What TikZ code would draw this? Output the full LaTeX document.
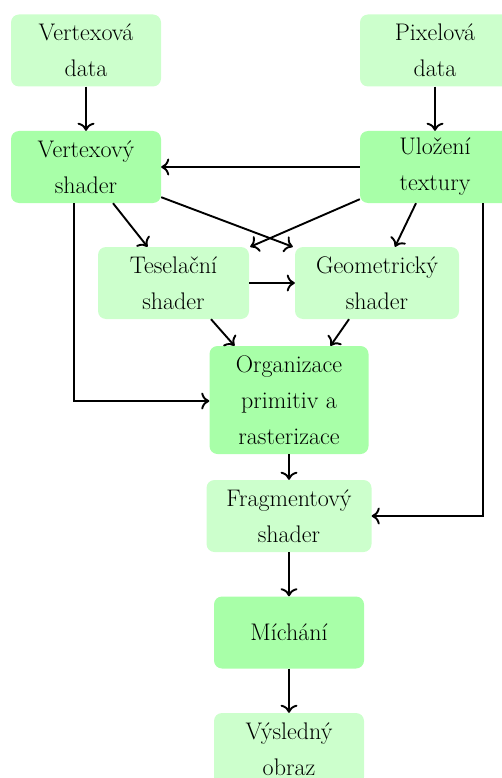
\documentclass[tikz,border=0pt]{standalone}
\usepackage{xcolor}
\usepackage{tikz}
\usetikzlibrary{calc, positioning, arrows.meta}

\definecolor{svetla}{HTML}{CCFFCC}
\definecolor{tmava}{HTML}{A8FFA8}

\tikzset{
    blok/.style={fill=svetla, rounded corners=8pt, align=center, inner sep=2pt,
        minimum width=150pt, minimum height=72pt,
        font=\fontsize{24}{36}\selectfont},
    blokt/.style={blok, fill=tmava},
    sipka/.style={-{To[scale=1.4]}, line width=1.9pt}
}

\begin{document}
\begin{tikzpicture}[x=1pt, y=-1pt]

    % =================================================================
    % 1. OKRAJE OBRAZKU
    % =================================================================
    \useasboundingbox (0,0) rectangle (501,778);

    % =================================================================
    % 2. BLOKY
    % =================================================================
    \node[blok]  (vdata)   at (86, 50.5)  {Vertexová\\data};
    \node[blok]  (pdata)   at (435, 50.5) {Pixelová\\data};
    \node[blokt] (vshader) at (86, 167)   {Vertexový\\shader};
    \node[blokt] (textury) at (435, 167)  {Uložení\\textury};
    \node[blok, minimum width=151pt]  (tesel) at (173.5, 283) {Teselační\\shader};
    \node[blok, minimum width=164pt]  (geom)  at (377, 283)   {Geometrický\\shader};
    \node[blokt, minimum width=159pt, minimum height=108pt]
        (raster) at (289, 400) {Organizace\\primitiv a\\rasterizace};
    \node[blok, minimum width=165pt]  (frag)  at (289, 516) {Fragmentový\\shader};
    \node[blokt] (mix)  at (289, 632.5) {Míchání};
    \node[blok]  (vysl) at (289, 749)   {Výsledný\\obraz};

    % =================================================================
    % 3. SIPKY
    % =================================================================
    \draw[sipka] (vdata) -- (vshader);
    \draw[sipka] (pdata) -- (textury);
    \draw[sipka] (textury) -- (vshader);
    \draw[sipka] ([xshift=27pt]vshader.south) -- ([xshift=-26pt]tesel.north);
    \draw[sipka] ([yshift=6pt]vshader.south east) -- ([xshift=-2pt]geom.north west);
    \draw[sipka] ([yshift=4pt]textury.south west) -- ([xshift=1pt]tesel.north east);
    \draw[sipka] ([xshift=-19pt]textury.south) -- ([xshift=18pt]geom.north);
    \draw[sipka] (tesel) -- (geom);
    \draw[sipka] ([xshift=37.5pt]tesel.south) -- ([xshift=-54.5pt]raster.north);
    \draw[sipka] ([xshift=-28pt]geom.south) -- ([xshift=41.5pt]raster.north);
    \draw[sipka] ([xshift=-12pt]vshader.south) |- ([yshift=-1pt]raster.west);
    \draw[sipka] (raster) -- (frag);
    \draw[sipka] ([xshift=48pt]textury.south) |- (frag.east);
    \draw[sipka] (frag) -- (mix);
    \draw[sipka] (mix) -- (vysl);

\end{tikzpicture}
\end{document}
